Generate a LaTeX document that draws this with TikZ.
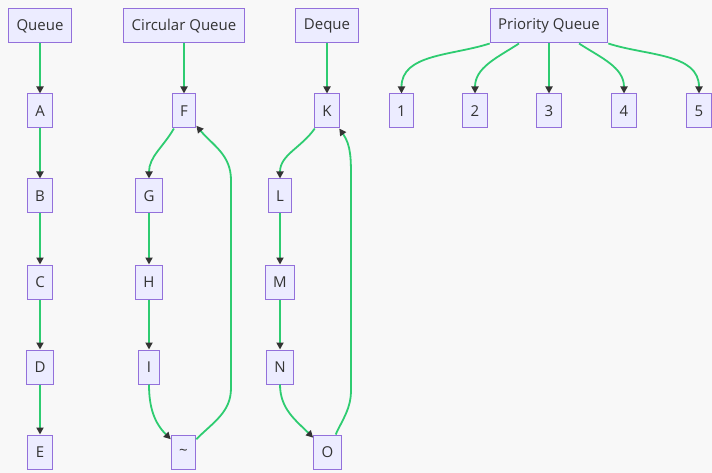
\documentclass[tikz,border=0pt]{standalone}
\usepackage{fontspec}
\setmainfont{Open Sans}
\usetikzlibrary{arrows.meta}
\definecolor{bgcol}{HTML}{F8F8F8}
\definecolor{boxfill}{HTML}{ECECFF}
\definecolor{boxline}{HTML}{9370DB}
\definecolor{linkcol}{HTML}{2ECC71}
\definecolor{txtcol}{HTML}{333333}
\begin{document}
\begin{tikzpicture}[x=1pt, y=-1pt,
    box/.style={rectangle, draw=boxline, fill=boxfill, line width=1pt, text=txtcol,
        font=\fontsize{15}{17}\selectfont, minimum height=34pt, inner xsep=8pt, inner ysep=0pt},
    link/.style={draw=linkcol, line width=1.8pt, -{Triangle[length=7pt, width=7pt, color=txtcol]}}]
            \fill[bgcol] (0,0) rectangle (712,473);
            \useasboundingbox (0,0) rectangle (712,473);
            % queue
            \node[box] (q0) at (40, 26) {Queue};
            \node[box] (q1) at (40, 111) {A};
            \node[box] (q2) at (40, 196) {B};
            \node[box] (q3) at (40, 282) {C};
            \node[box] (q4) at (40, 367) {D};
            \node[box] (q5) at (40, 452) {E};
            \draw[link] (q0) -- (q1);
            \draw[link] (q1) -- (q2);
            \draw[link] (q2) -- (q3);
            \draw[link] (q3) -- (q4);
            \draw[link] (q4) -- (q5);
            % circular queue
            \node[box] (c0) at (184, 26) {Circular Queue};
            \node[box] (c1) at (184, 111) {F};
            \node[box] (c2) at (149, 196) {G};
            \node[box] (c3) at (149, 282) {H};
            \node[box] (c4) at (149, 367) {I};
            \node[box] (c5) at (183.5, 452) {\textasciitilde};
            \coordinate (cr1) at (231, 388);
            \coordinate (cr2) at (231, 180);
            \draw[link] (c0) -- (c1);
            \draw[link] (c1) to[out=-120, in=90] (c2);
            \draw[link] (c2) -- (c3);
            \draw[link] (c3) -- (c4);
            \draw[link] (c4) to[out=-90, in=135] (c5);
            \draw[link] (c5) to[out=45, in=-90] (cr1) -- (cr2) to[out=90, in=-50] (c1);
            % deque
            \node[box] (d0) at (327, 26) {Deque};
            \node[box] (d1) at (327, 111) {K};
            \node[box] (d2) at (280, 196) {L};
            \node[box] (d3) at (280, 282) {M};
            \node[box] (d4) at (280, 367) {N};
            \node[box] (d5) at (327.5, 452) {O};
            \coordinate (dr1) at (351, 390);
            \coordinate (dr2) at (351, 180);
            \draw[link] (d0) -- (d1);
            \draw[link] (d1) to[out=-125, in=90] (d2);
            \draw[link] (d2) -- (d3);
            \draw[link] (d3) -- (d4);
            \draw[link] (d4) to[out=-90, in=135] (d5);
            \draw[link] (d5) to[out=65, in=-90] (dr1) -- (dr2) to[out=90, in=-55] (d1);
            % priority queue
            \node[box] (p0) at (549, 26) {Priority Queue};
            \node[box] (p1) at (401.5, 111) {1};
            \node[box] (p2) at (475, 111) {2};
            \node[box] (p3) at (549, 111) {3};
            \node[box] (p4) at (624, 111) {4};
            \node[box] (p5) at (699, 111) {5};
            \draw[link] (p0.south west) to[out=-162, in=90] (p1);
            \draw[link] ([xshift=-30pt]p0.south) to[out=-147, in=90] (p2);
            \draw[link] (p0) -- (p3);
            \draw[link] ([xshift=30pt]p0.south) to[out=-33, in=90] (p4);
            \draw[link] (p0.south east) to[out=-18, in=90] (p5);
        \end{tikzpicture}
\end{document}
